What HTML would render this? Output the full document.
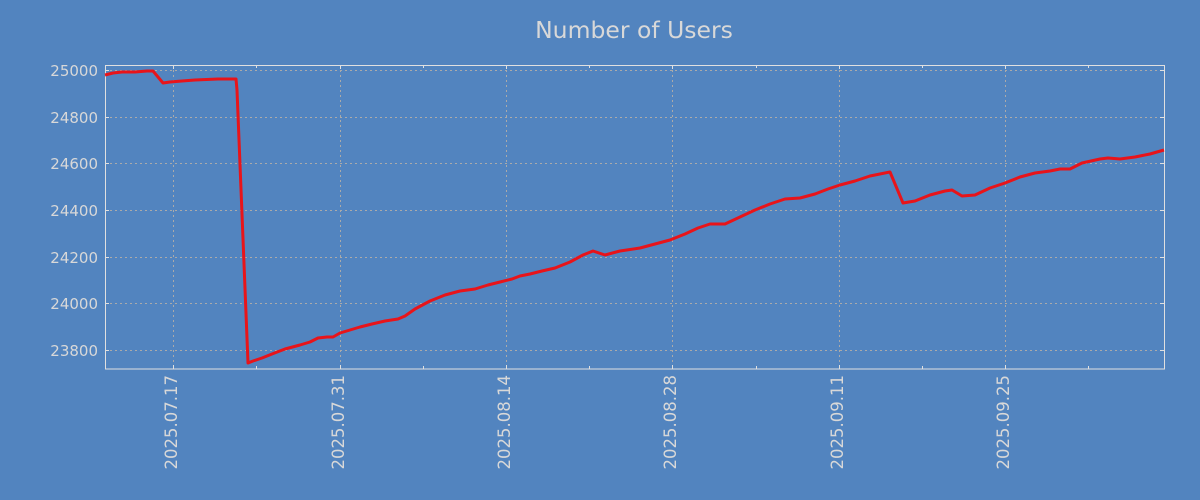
<!DOCTYPE html>
<html><head><meta charset="utf-8"><style>
html,body{margin:0;padding:0;background:#5284bf;}
svg{display:block;font-family:"DejaVu Sans","Liberation Sans",sans-serif;}
</style></head><body>
<svg width="1200" height="500" viewBox="0 0 1200 500" xmlns="http://www.w3.org/2000/svg">
<rect width="1200" height="500" fill="#5284bf"/>
<text x="634" y="38" text-anchor="middle" font-size="23.5" fill="#d8d8d8">Number of Users</text>
<g stroke="#aaaaaa" stroke-width="1" stroke-dasharray="2,3">
<line x1="105" x2="1164" y1="70.5" y2="70.5"/>
<line x1="105" x2="1164" y1="117.5" y2="117.5"/>
<line x1="105" x2="1164" y1="163.5" y2="163.5"/>
<line x1="105" x2="1164" y1="210.5" y2="210.5"/>
<line x1="105" x2="1164" y1="257.5" y2="257.5"/>
<line x1="105" x2="1164" y1="303.5" y2="303.5"/>
<line x1="105" x2="1164" y1="350.5" y2="350.5"/>
<line y1="65" y2="369" x1="173.5" x2="173.5"/>
<line y1="65" y2="369" x1="340.5" x2="340.5"/>
<line y1="65" y2="369" x1="506.5" x2="506.5"/>
<line y1="65" y2="369" x1="672.5" x2="672.5"/>
<line y1="65" y2="369" x1="839.5" x2="839.5"/>
<line y1="65" y2="369" x1="1005.5" x2="1005.5"/>
</g>
<rect x="105.5" y="65.5" width="1059" height="303.5" fill="none" stroke="#e0e0e0" stroke-width="1"/>
<g stroke="#e0e0e0" stroke-width="1">
<path d="M173.5 65v4M340.5 65v4M506.5 65v4M672.5 65v4M839.5 65v4M1005.5 65v4M173.5 369v-4M340.5 369v-4M506.5 369v-4M672.5 369v-4M839.5 369v-4M1005.5 369v-4"/>
<path d="M256.5 65v3M423.5 65v3M589.5 65v3M756.5 65v3M922.5 65v3M1088.5 65v3M256.5 369v-3M423.5 369v-3M589.5 369v-3M756.5 369v-3M922.5 369v-3M1088.5 369v-3"/>
<path d="M105 70.5h4M105 117.5h4M105 163.5h4M105 210.5h4M105 257.5h4M105 303.5h4M105 350.5h4M1164 70.5h-4M1164 117.5h-4M1164 163.5h-4M1164 210.5h-4M1164 257.5h-4M1164 303.5h-4M1164 350.5h-4"/>
</g>
<g font-size="15" fill="#d8d8d8" text-anchor="end">
<text x="98" y="76">25000</text>
<text x="98" y="123">24800</text>
<text x="98" y="169">24600</text>
<text x="98" y="216">24400</text>
<text x="98" y="263">24200</text>
<text x="98" y="309">24000</text>
<text x="98" y="356">23800</text>
</g>
<g font-size="16.5" fill="#d8d8d8" text-anchor="end">
<text transform="translate(177,375) rotate(-90)">2025.07.17</text>
<text transform="translate(344,375) rotate(-90)">2025.07.31</text>
<text transform="translate(510,375) rotate(-90)">2025.08.14</text>
<text transform="translate(676,375) rotate(-90)">2025.08.28</text>
<text transform="translate(843,375) rotate(-90)">2025.09.11</text>
<text transform="translate(1009,375) rotate(-90)">2025.09.25</text>
</g>
<polyline fill="none" stroke="#e8141a" stroke-width="3" stroke-linejoin="round" points="105,75 113,73 122,72 135,72 147,71 153,71 158,77 163,83 170,82 182,81 195,80 218,79 236,79 237,90 248,363 253,361 262,358 272,354 285,349 300,345 310,342 318,338 327,337 333,337 340,333 350,330 360,327 372,324 385,321 398,319 405,316 415,309 430,301 445,295 460,291 475,289 488,285 500,282 512,279 520,276 530,274 542,271 555,268 570,262 583,255 593,251 605,255 620,251 640,248 655,244 670,240 685,234 698,228 710,224 725,224 740,217 755,210 770,204 785,199 800,198 815,194 828,189 840,185 855,181 870,176 890,172 903,203 915,201 930,195 945,191 952,190 962,196 975,195 990,188 1005,183 1020,177 1035,173 1050,171 1060,169 1070,169 1082,163 1100,159 1108,158 1120,159 1135,157 1150,154 1164,150"/>
</svg>
</body></html>
